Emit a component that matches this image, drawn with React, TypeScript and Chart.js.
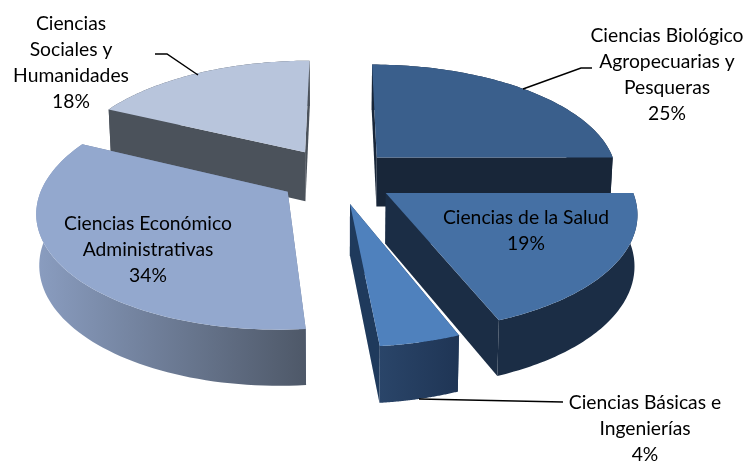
import React, { useEffect, useRef } from "react";
import { Chart, registerables } from "chart.js";

Chart.register(...registerables);

const categories = [
  "Ciencias Biológico Agropecuarias y Pesqueras",
  "Ciencias de la Salud",
  "Ciencias Básicas e Ingenierías",
  "Ciencias Económico Administrativas",
  "Ciencias Sociales y Humanidades",
];
const shares = [25, 19.05, 4.45, 33.65, 17.85];
const labelLines = [
  ["Ciencias Biológico", "Agropecuarias y", "Pesqueras"],
  ["Ciencias de la Salud"],
  ["Ciencias Básicas e", "Ingenierías"],
  ["Ciencias Económico", "Administrativas"],
  ["Ciencias", "Sociales y", "Humanidades"],
];

// styling / layout
const explode = [47, 43, 53, 53, 51];
const driftU = [-0.006, 0.012, -0.02, 0, -0.017];
const driftV = [0, 0.04, 0, 0, 0];
const topColors = ["#3A5F8C", "#4570A4", "#4F81BD", "#93A8CE", "#B8C5DC"];
const faceColors = ["#182639", "#1B2D45", "#1F3A5C", "#6F7F9C", "#4B525B"];
const wallFrom = ["#182639", "#1B2D45", "#2A4569", "#8A9DC0", "#4B525B"];
const wallTo = ["#182639", "#1B2D45", "#1F3555", "#4E5868", "#4B525B"];
const labelX = [667, 526, 645, 148, 71];
const labelY = [36, 218, 403, 224, 24];
const leaders: number[][][] = [
  [[523, 89], [581, 68], [592, 68]],
  [],
  [[419, 399], [563, 402]],
  [],
  [[155, 54], [167, 54], [198, 75]],
];

const CY_SHIFT = -57;
const SCALE_X = 1.176;
const SCALE_Y = 0.543;
const PERSP = 0.15;

const pie3d = {
  id: "pie3d",
  beforeDatasetsDraw(chart: any) {
    const ctx = chart.ctx as CanvasRenderingContext2D;
    const arcs = chart.getDatasetMeta(0).data as any[];
    const items = arcs.map((el, i) => {
      const p = el.getProps(["x", "y", "startAngle", "endAngle", "outerRadius"], true);
      const mid = (p.startAngle + p.endAngle) / 2;
      const off = el.options.offset / p.outerRadius;
      return { i, p, u0: Math.cos(mid) * off + driftU[i], v0: Math.sin(mid) * off + driftV[i] };
    });
    items.sort((a, b) => a.v0 - b.v0);

    for (const { i, p, u0, v0 } of items) {
      const cx = p.x;
      const cy = p.y + CY_SHIFT;
      const A = SCALE_X * p.outerRadius;
      const B = SCALE_Y * p.outerRadius;
      const top = (u: number, v: number) => {
        const w = 1 / (1 - PERSP * v);
        return { x: cx + A * u * w, y: cy + B * v * w, w };
      };
      const bottom = (u: number, v: number) => {
        const t = top(u, v);
        return { x: cx + (t.x - cx) * 0.99, y: t.y + 49 + 30 * (t.w - 0.97) };
      };
      const N = 72;
      const angles: number[] = [];
      for (let k = 0; k <= N; k++) angles.push(p.startAngle + ((p.endAngle - p.startAngle) * k) / N);
      const rim = angles.map((a) => [u0 + Math.cos(a), v0 + Math.sin(a)]);
      const apex = [u0, v0];
      const first = rim[0];
      const last = rim[N];

      const path = (pts: { x: number; y: number }[]) => {
        ctx.beginPath();
        pts.forEach((q, k) => (k ? ctx.lineTo(q.x, q.y) : ctx.moveTo(q.x, q.y)));
        ctx.closePath();
      };
      const wallPts = [
        ...rim.map((r) => top(r[0], r[1])),
        ...rim.slice().reverse().map((r) => bottom(r[0], r[1])),
      ];
      const faces = [
        {
          v: (apex[1] + first[1]) / 2,
          pts: [top(apex[0], apex[1]), top(first[0], first[1]), bottom(first[0], first[1]), bottom(apex[0], apex[1])],
          wall: false,
        },
        {
          v: (apex[1] + last[1]) / 2,
          pts: [top(apex[0], apex[1]), top(last[0], last[1]), bottom(last[0], last[1]), bottom(apex[0], apex[1])],
          wall: false,
        },
        { v: rim[N >> 1][1], pts: wallPts, wall: true },
      ].sort((a, b) => a.v - b.v);

      for (const f of faces) {
        path(f.pts);
        if (f.wall) {
          const xs = f.pts.map((q) => q.x);
          const g = ctx.createLinearGradient(Math.min(...xs), 0, Math.max(...xs), 0);
          g.addColorStop(0, wallFrom[i]);
          g.addColorStop(1, wallTo[i]);
          ctx.fillStyle = g;
        } else {
          ctx.fillStyle = faceColors[i];
        }
        ctx.fill();
      }
      path([top(apex[0], apex[1]), ...rim.map((r) => top(r[0], r[1]))]);
      ctx.fillStyle = topColors[i];
      ctx.fill();
    }

    // leader lines
    ctx.strokeStyle = "#000000";
    ctx.lineWidth = 1.5;
    for (const l of leaders) {
      if (!l.length) continue;
      ctx.beginPath();
      l.forEach((q, k) => (k ? ctx.lineTo(q[0], q[1]) : ctx.moveTo(q[0], q[1])));
      ctx.stroke();
    }

    // data labels
    ctx.fillStyle = "#000000";
    ctx.font = '19.3px Lato, "Open Sans", sans-serif';
    ctx.textAlign = "center";
    ctx.textBaseline = "middle";
    shares.forEach((s, i) => {
      const lines = [...labelLines[i], Math.round(s) + "%"];
      lines.forEach((t, k) => ctx.fillText(t, labelX[i], labelY[i] + k * 26));
    });
    return false;
  },
};

export default function App() {
  const ref = useRef<HTMLCanvasElement>(null);
  useEffect(() => {
    document.body.style.margin = "0";
    document.body.style.background = "#ffffff";
    const chart = new Chart(ref.current as HTMLCanvasElement, {
      type: "pie",
      data: {
        labels: categories,
        datasets: [
          {
            data: shares,
            backgroundColor: topColors,
            offset: explode,
            borderWidth: 0,
          },
        ],
      },
      options: {
        responsive: false,
        animation: false,
        layout: { padding: { right: 68 } },
        plugins: { legend: { display: false }, tooltip: { enabled: false } },
      },
      plugins: [pie3d],
    } as any);
    return () => chart.destroy();
  }, []);
  return <canvas ref={ref} width={748} height={464} style={{ display: "block" }} />;
}
